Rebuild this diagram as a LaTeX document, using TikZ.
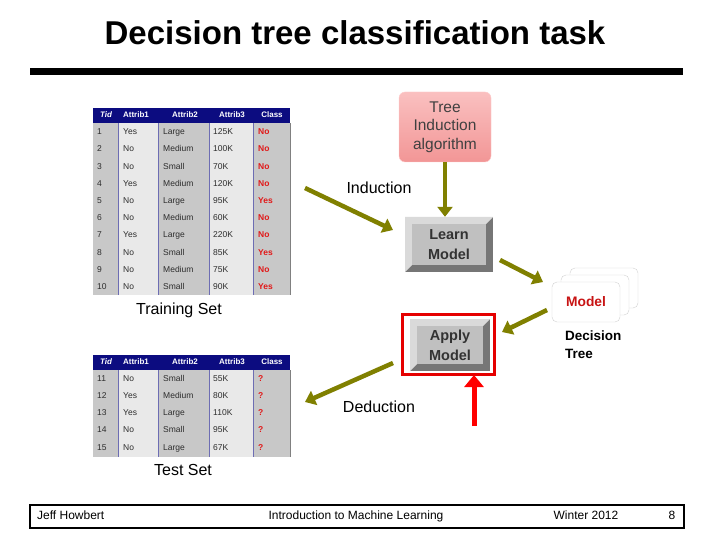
\documentclass[tikz,border=0pt]{standalone}
\usepackage{fontspec}
\setmainfont{Liberation Sans}
\usetikzlibrary{arrows.meta,positioning,calc}

\definecolor{navy}{RGB}{12,12,128}
\definecolor{colA}{RGB}{200,200,200}
\definecolor{colB}{RGB}{233,233,233}
\definecolor{celltext}{RGB}{45,45,45}
\definecolor{classred}{RGB}{225,25,25}
\definecolor{pinktop}{RGB}{250,192,192}
\definecolor{pinkbot}{RGB}{242,150,150}
\definecolor{bevlight}{RGB}{218,218,218}
\definecolor{bevdark}{RGB}{118,118,118}
\definecolor{bevface}{RGB}{192,192,192}
\definecolor{arrowolive}{RGB}{128,128,0}
\definecolor{modelred}{RGB}{200,20,20}

\tikzset{
  cell/.style={anchor=west,inner sep=0pt,text height=6.2pt,text depth=1.8pt,
    font=\fontsize{8.5}{9}\selectfont,text=celltext},
  clscell/.style={cell,font=\fontsize{8.5}{9}\selectfont\bfseries,text=classred},
  hcell/.style={inner sep=0pt,text height=6pt,text depth=1.7pt,
    font=\fontsize{8}{9}\selectfont\bfseries,text=white},
  bevelbox/.style={rectangle,inner sep=0pt,align=center,fill=bevdark,
    font=\fontsize{14.5}{20}\selectfont\bfseries,text=black!80,
    path picture={
      \fill[bevlight] (path picture bounding box.north west)
        -- (path picture bounding box.north east)
        -- ([shift={(-7pt,-7pt)}]path picture bounding box.north east)
        -- ([shift={(7pt,-7pt)}]path picture bounding box.north west)
        -- ([shift={(7pt,7pt)}]path picture bounding box.south west)
        -- (path picture bounding box.south west) -- cycle;
      \fill[bevface] ([shift={(7pt,-7pt)}]path picture bounding box.north west)
        rectangle ([shift={(-7pt,7pt)}]path picture bounding box.south east);
    }},
  olivearrow/.style={draw=arrowolive,line width=4.5pt,-{Triangle[length=10pt,width=15pt]}},
  redarrow/.style={draw=red,line width=5pt,-{Triangle[length=12pt,width=19pt]}},
  card/.style={rectangle,rounded corners=5pt,draw=gray!35,fill=white,minimum width=68pt,minimum height=40pt},
  lbl/.style={inner sep=0pt,font=\fontsize{16}{19}\selectfont},
  foot/.style={inner sep=0pt,text height=8.6pt,text depth=2.5pt,font=\fontsize{12}{14}\selectfont}
}

\begin{document}
\begin{tikzpicture}[x=1pt,y=-1pt,>=Latex]
\fill[white] (0,0) rectangle (720,540);
\useasboundingbox (0,0) rectangle (720,540);

\node[font=\fontsize{33}{40}\selectfont\bfseries] (title) at (355,33) {Decision tree classification task};
\fill (30,68.5) rectangle (683,75.5);

\foreach \ty/\tb in {108/295,355/457} {
  \fill[navy] (93,\ty) rectangle (290,\ty+15);
  \foreach \xa/\xb/\cc in {93/118/colA,118/158/colB,158/209/colA,209/253/colB,253/290/colA}
    \fill[\cc] (\xa,\ty+15) rectangle (\xb,\tb);
  \foreach \xd in {118,158,209,253}
    \draw[navy!60,line width=0.6pt] (\xd,\ty+15) -- (\xd,\tb);
  \draw[gray,line width=0.6pt] (290,\ty+15) -- (290,\tb);
  \node[hcell,font=\fontsize{8}{9}\selectfont\bfseries\itshape] (hd\ty-t) at (106,\ty+7.5) {Tid};
  \node[hcell] (hd\ty-a) at (136,\ty+7.5) {Attrib1};
  \node[hcell] (hd\ty-b) at (185,\ty+7.5) {Attrib2};
  \node[hcell] (hd\ty-c) at (232,\ty+7.5) {Attrib3};
  \node[hcell] (hd\ty-k) at (272,\ty+7.5) {Class};
}

\foreach \t/\a/\b/\c/\k [count=\i] in {1/Yes/Large/125K/No,2/No/Medium/100K/No,
    3/No/Small/70K/No,4/Yes/Medium/120K/No,5/No/Large/95K/Yes,6/No/Medium/60K/No,
    7/Yes/Large/220K/No,8/No/Small/85K/Yes,9/No/Medium/75K/No,10/No/Small/90K/Yes} {
  \pgfmathsetmacro{\ry}{132.5+(\i-1)*17.2}
  \node[cell] (tr\i-t) at (97,\ry) {\t};
  \node[cell] (tr\i-a) at (123,\ry) {\a};
  \node[cell] (tr\i-b) at (163,\ry) {\b};
  \node[cell] (tr\i-c) at (213,\ry) {\c};
  \node[clscell] (tr\i-k) at (258,\ry) {\k};
}

\foreach \t/\a/\b/\c [count=\i] in {11/No/Small/55K,12/Yes/Medium/80K,
    13/Yes/Large/110K,14/No/Small/95K,15/No/Large/67K} {
  \pgfmathsetmacro{\ry}{379+(\i-1)*17.2}
  \node[cell] (te\i-t) at (97,\ry) {\t};
  \node[cell] (te\i-a) at (123,\ry) {\a};
  \node[cell] (te\i-b) at (163,\ry) {\b};
  \node[cell] (te\i-c) at (213,\ry) {\c};
  \node[clscell] (te\i-k) at (258,\ry) {?};
}

\node[lbl] (trainset) at (179,310) {Training Set};
\node[lbl] (testset) at (183,470) {Test Set};

\node[rectangle,rounded corners=6pt,top color=pinktop,bottom color=pinkbot,draw=red!20,
  minimum width=92pt,minimum height=70pt,align=center,text=black!75,
  font=\fontsize{15.5}{18.5}\selectfont] (induct) at (445,127) {Tree\\Induction\\algorithm};
\node[bevelbox,minimum width=88pt,minimum height=55pt] (learn) at (449,244.5) {Learn\\Model};
\node[draw=red!90!black,line width=3pt,minimum width=92pt,minimum height=60pt] (applyframe) at (448.5,344.5) {};
\node[bevelbox,minimum width=80pt,minimum height=52pt] (apply) at (450,345) {Apply\\Model};

\node[card] (cardback) at (604,288) {};
\node[card] (cardmid) at (595,295) {};
\node[card,font=\fontsize{13.8}{16}\selectfont\bfseries,text=modelred] (model) at (586,302) {Model};
\node[anchor=west,align=left,inner sep=0pt,font=\fontsize{13.5}{18.5}\selectfont\bfseries] (dtree) at (565,344.5) {Decision\\Tree};

\node[lbl] (induction) at (379,188) {Induction};
\node[lbl] (deduction) at (379,407) {Deduction};

\coordinate (trainout) at (305,188);
\coordinate (learnin) at (393,230);
\coordinate (learnout) at (500,260);
\coordinate (modelin) at (543,282);
\coordinate (modelout) at (547,310);
\coordinate (applyin) at (502,332);
\coordinate (applyout) at (393,363);
\coordinate (testin) at (305,402);
\coordinate (redtail) at (474,426);

\draw[olivearrow] (induct.south) -- (induct.south |- learn.north);
\draw[olivearrow] (trainout) -- (learnin);
\draw[olivearrow] (learnout) -- (modelin);
\draw[olivearrow] (modelout) -- (applyin);
\draw[olivearrow] (applyout) -- (testin);
\draw[redarrow,shorten >=-1pt] (redtail) -- (redtail |- applyframe.south);

\draw[line width=1.5pt] (30,505) rectangle (684,528);
\node[foot,anchor=west] (author) at (37,516.5) {Jeff Howbert};
\node[foot] (course) at (356,516.5) {Introduction to Machine Learning};
\node[foot] (term) at (586,516.5) {Winter 2012};
\node[foot] (page) at (672,516.5) {8};
\end{tikzpicture}
\end{document}
